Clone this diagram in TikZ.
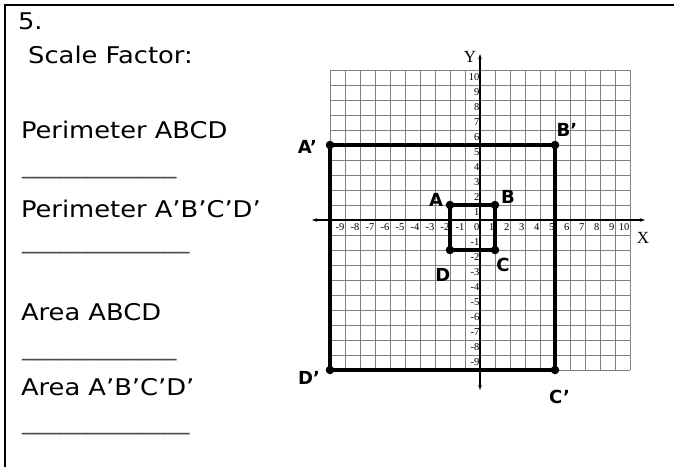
\documentclass[tikz,border=0pt]{standalone}
\usepackage{fontspec}
\setmainfont{DejaVu Sans}[FakeStretch=1.12]
\newfontfamily\tickfont{Liberation Serif}
\newfontfamily\handfont{DejaVu Sans}
\usetikzlibrary{arrows.meta,positioning}

\begin{document}
\begin{tikzpicture}[x=1pt,y=-1pt,>={Latex[length=7pt,width=3.5pt]},
  every node/.style={inner sep=0pt,outer sep=0pt},
  sheettext/.style={anchor=base west,font=\fontsize{23}{28}\selectfont},
  blankline/.style={anchor=base west,font=\fontsize{23}{28}\selectfont,text=black!70},
  gridline/.style={black!50,line width=0.8pt},
  axisline/.style={black,line width=1.3pt},
  shapeline/.style={black,line width=3.2pt,line join=round},
  vertex/.style={circle,fill=black,minimum size=8.5pt},
  ticklab/.style={anchor=east,inner sep=0.6pt,font=\tickfont\fontsize{10.5}{10.5}\selectfont},
  axislab/.style={font=\tickfont\fontsize{17}{17}\selectfont},
  hand/.style={font=\handfont\bfseries\fontsize{18}{18}\selectfont}]
  \useasboundingbox (0,0) rectangle (674,467);
  \fill[white] (0,0) rectangle (674,467);
  \draw[line width=2pt] (3.5,4.5) -- (674,4.5);
  \draw[line width=2pt] (4.5,3.5) -- (4.5,467);

  \node[sheettext] (num) at (18,29) {5.};
  \node[sheettext] (scale) at (20,63) {\ Scale Factor:};
  \node[sheettext] (perim) at (21,138) {Perimeter ABCD};
  \node[blankline] (perimblank) at (22,173) {\_\_\_\_\_\_\_\_\_\_\_\_};
  \node[sheettext] (perimp) at (21,217) {Perimeter A’B’C’D’};
  \node[blankline] (perimpblank) at (22,248) {\_\_\_\_\_\_\_\_\_\_\_\_\_};
  \node[sheettext] (area) at (21,320) {Area ABCD};
  \node[blankline] (areablank) at (22,355) {\_\_\_\_\_\_\_\_\_\_\_\_};
  \node[sheettext] (areap) at (21,395) {Area A’B’C’D’};
  \node[blankline] (areapblank) at (22,429) {\_\_\_\_\_\_\_\_\_\_\_\_\_};

  \begin{scope}[shift={(480,220)},x=15pt,y=15pt]
    \foreach \k in {-10,...,10}{
      \draw[gridline] (\k,-10) -- (\k,10);
      \draw[gridline] (-10,\k) -- (10,\k);
    }
    \coordinate (xleft) at (-11.33,0);
    \coordinate (xright) at (11.13,0);
    \coordinate (ybottom) at (0,-11.47);
    \coordinate (ytop) at (0,11.2);
    \draw[axisline,<->] (xleft) -- (xright);
    \draw[axisline,<->] (ybottom) -- (ytop);
    \node[axislab] (xname) at (10.87,-1.2) {X};
    \node[axislab] (yname) at (-0.67,10.87) {Y};
    \foreach \k in {-9,-8,...,10}
      \node[ticklab] (xt\k) at (\k,-0.5) {\k};
    \foreach \k in {-9,-8,...,-1,1,2,...,10}
      \node[ticklab] (yt\k) at (0,\k-0.5) {\k};

    \coordinate (A) at (-2,1);
    \coordinate (B) at (1,1);
    \coordinate (C) at (1,-2);
    \coordinate (D) at (-2,-2);
    \coordinate (Ap) at (-10,5);
    \coordinate (Bp) at (5,5);
    \coordinate (Cp) at (5,-10);
    \coordinate (Dp) at (-10,-10);
    \draw[shapeline] (A) -- (B) -- (C) -- (D) -- cycle;
    \draw[shapeline] (Ap) -- (Bp) -- (Cp) -- (Dp) -- cycle;
    \foreach \v in {A,B,C,D,Ap,Bp,Cp,Dp}
      \node[vertex] (dot\v) at (\v) {};

    \node[hand] (labA) at (-2.93,1.33) {A};
    \node[hand] (labB) at (1.87,1.53) {B};
    \node[hand] (labC) at (1.53,-3.0) {C};
    \node[hand] (labD) at (-2.47,-3.67) {D};
    \node[hand] (labAp) at (-11.5,4.9) {A’};
    \node[hand] (labBp) at (5.8,6.0) {B’};
    \node[hand] (labCp) at (5.3,-11.8) {C’};
    \node[hand] (labDp) at (-11.4,-10.5) {D’};
  \end{scope}
\end{tikzpicture}
\end{document}
